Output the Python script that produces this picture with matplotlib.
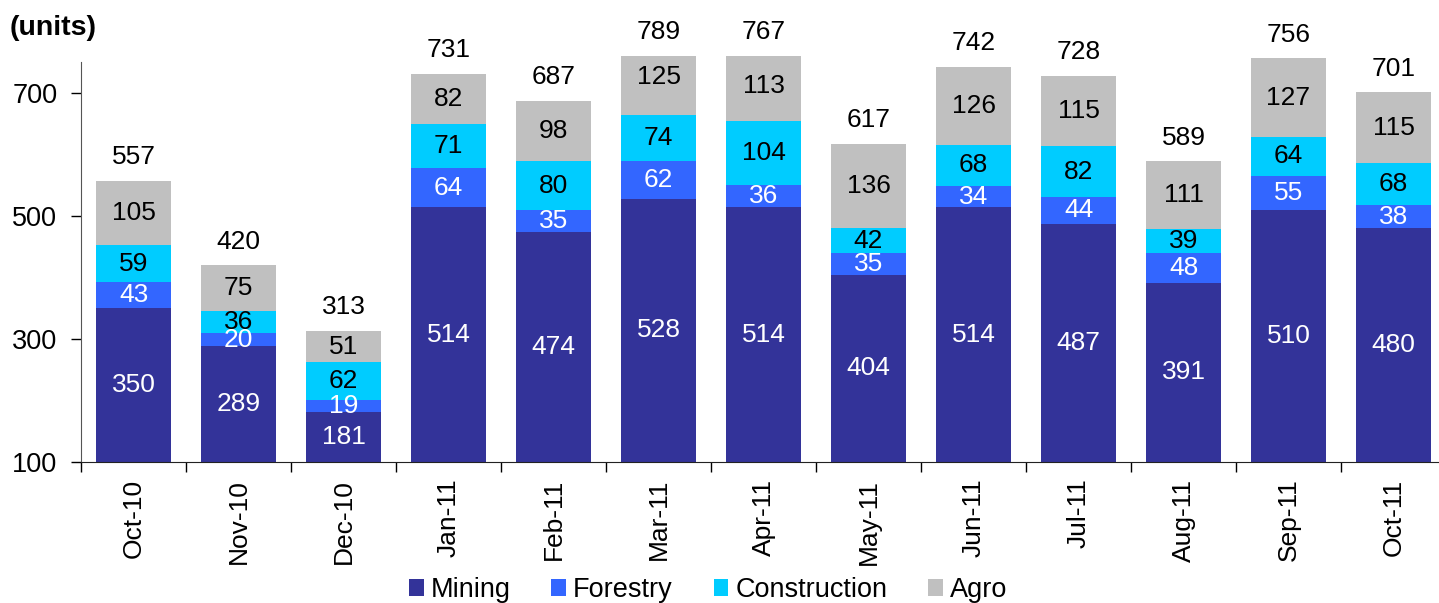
import matplotlib
matplotlib.use("Agg")
import matplotlib.pyplot as plt
import numpy as np
from matplotlib.patches import Patch

plt.rcParams['font.family'] = ['Liberation Sans', 'DejaVu Sans']

months = ["Oct-10", "Nov-10", "Dec-10", "Jan-11", "Feb-11", "Mar-11", "Apr-11",
          "May-11", "Jun-11", "Jul-11", "Aug-11", "Sep-11", "Oct-11"]
mining = [350, 289, 181, 514, 474, 528, 514, 404, 514, 487, 391, 510, 480]
forestry = [43, 20, 19, 64, 35, 62, 36, 35, 34, 44, 48, 55, 38]
construction = [59, 36, 62, 71, 80, 74, 104, 42, 68, 82, 39, 64, 68]
agro = [105, 75, 51, 82, 98, 125, 113, 136, 126, 115, 111, 127, 115]
totals = [557, 420, 313, 731, 687, 789, 767, 617, 742, 728, 589, 756, 701]

series_names = ["Mining", "Forestry", "Construction", "Agro"]
colors = ["#333399", "#3366FF", "#00CCFF", "#C0C0C0"]
label_colors = ["white", "white", "black", "black"]

YMIN, YMAX = 100, 760
FS = 19

fig = plt.figure(figsize=(14.39, 6.03), dpi=100)
ax = fig.add_axes([81 / 1439, (603 - 462) / 603, 1365 / 1439, (462 - 56) / 603])

x = np.arange(len(months))
width = 0.715
bottoms = np.zeros(len(months))
all_series = [mining, forestry, construction, agro]
for s, (vals, col, lc) in enumerate(zip(all_series, colors, label_colors)):
    vals = np.array(vals, dtype=float)
    ax.bar(x, vals, width, bottom=bottoms, color=col, zorder=2)
    for i, v in enumerate(vals):
        if s == 0:
            yc = (YMIN + v) / 2
        else:
            yc = bottoms[i] + v / 2
        ax.text(x[i], yc, f"{int(v)}", ha="center", va="center", color=lc,
                fontsize=FS, zorder=3)
    bottoms += vals

for i, t in enumerate(totals):
    top = min(bottoms[i], YMAX)
    ax.annotate(f"{t}", (x[i], top), xytext=(0, 17), textcoords="offset points",
                ha="center", va="center", fontsize=FS, annotation_clip=False)

ax.set_ylim(YMIN, YMAX)
ax.set_xlim(-0.5, len(months) - 0.5)
ax.set_yticks([100, 300, 500, 700])
ax.tick_params(axis="y", labelsize=19.5, length=7, width=1, direction="out", pad=10)
ax.set_xticks(x)
ax.set_xticklabels(months, rotation=90, fontsize=19)
ax.set_xticks(np.arange(-0.5, len(months), 1), minor=True)
ax.tick_params(axis="x", which="major", length=0, pad=12)
ax.tick_params(axis="x", which="minor", length=7, width=1, direction="out")

for sp in ["top", "right"]:
    ax.spines[sp].set_visible(False)
ax.spines["left"].set_bounds(YMIN, 750)
ax.spines["left"].set_color("#555555")
ax.spines["bottom"].set_color("#222222")

fig.text(10 / 1439, 1 - 28 / 603, "(units)", fontsize=20.5, fontweight="bold",
         ha="left", va="center")

handles = [Patch(facecolor=c, edgecolor="none") for c in colors]
fig.legend(handles, series_names, loc="center", bbox_to_anchor=(708 / 1439, 1 - 590 / 603),
           ncol=4, frameon=False, fontsize=19.5, handlelength=0.55, handleheight=0.55,
           handletextpad=0.25, columnspacing=1.5, borderaxespad=0, borderpad=0)

fig.savefig("out.png", dpi=100)
